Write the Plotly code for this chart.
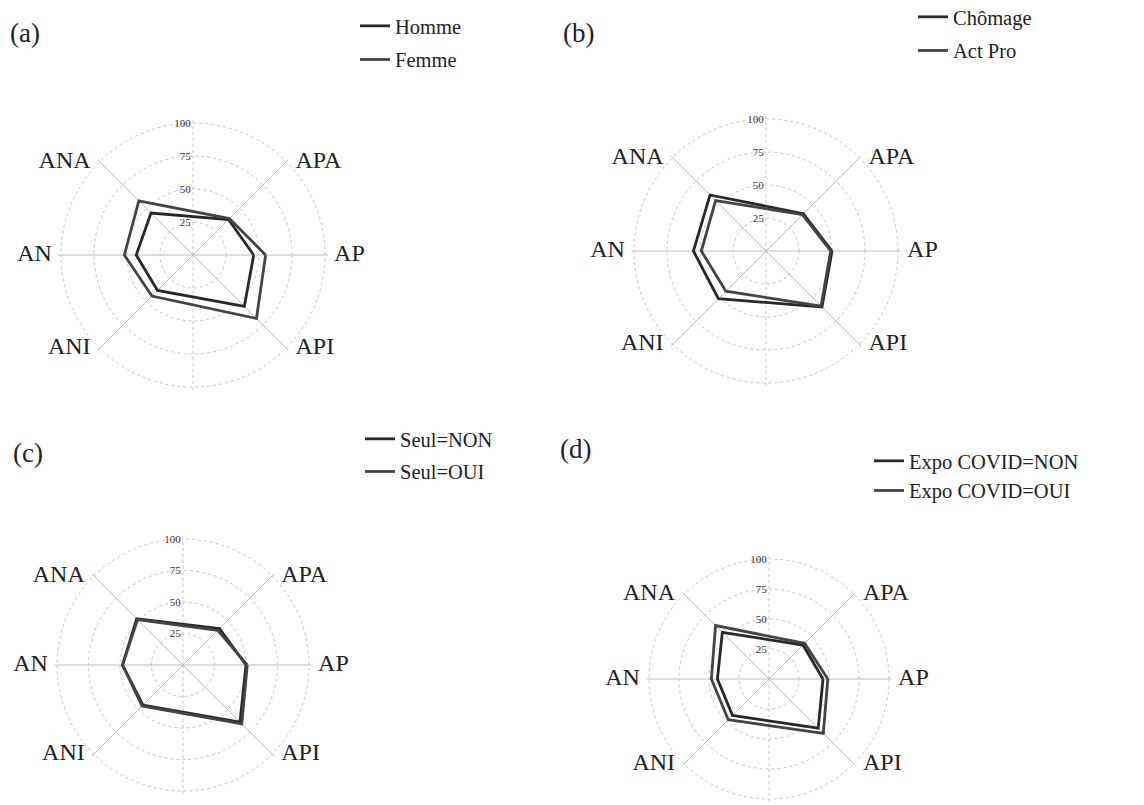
import plotly.graph_objects as go

# ---------------- data ----------------
CATEGORIES = ["AP", "APA", "ANA", "AN", "ANI", "API"]
# eight equal angular slots, two blank ones on the vertical
SLOTS = ["AP", "APA", " ", "ANA", "AN", "ANI", "  ", "API"]
BLANK_SLOTS = [" ", "  "]

HOMME = [46, 38, 45, 43, 38, 55]
FEMME = [55, 39, 58, 52, 44, 68]

CHOMAGE = [50, 40, 60, 55, 51, 60]
ACT_PRO = [49, 39, 54, 49, 43, 59]

SEUL_NON = [50, 41, 52, 48, 45, 64]
SEUL_OUI = [51, 39, 51, 48, 46, 66]

EXPO_NON = [45, 40, 55, 43, 43, 58]
EXPO_OUI = [49, 42, 63, 48, 48, 64]

RADIAL_TICKS = [25, 50, 75, 100]
RADIAL_TICKTEXT = ["25", "50", "75", "100"]
R_MAX = 102

PANELS = [
    dict(label="(a)", names=["Homme", "Femme"], values=[HOMME, FEMME]),
    dict(label="(b)", names=["Chômage", "Act Pro"], values=[CHOMAGE, ACT_PRO]),
    dict(label="(c)", names=["Seul=NON", "Seul=OUI"], values=[SEUL_NON, SEUL_OUI]),
    dict(label="(d)", names=["Expo COVID=NON", "Expo COVID=OUI"], values=[EXPO_NON, EXPO_OUI]),
]

# category label placement (left/right of the spoke end)
CAT_TEXTPOS = ["middle right", "middle right", "middle left",
               "middle left", "middle left", "middle right"]

# ---------------- layout geometry (page pixels) ----------------
W, H = 1144, 805
PAGE_OFFSET = 8  # default body margin of the html page
CENTERS = [(193, 255, 132), (766, 251, 132), (183, 665, 126), (769, 679, 120)]
LABEL_POS = [(25, 33), (578, 33), (28, 453), (575, 449)]
LEGEND_POS = [(355, 6), (913, -3), (360, 419), (869, 441)]
LEGEND_GAP = [4, 4, 3, 0]

FONT = "Liberation Serif"
LINE_COLORS = ["#282828", "#444444"]


def px_x(x):
    return (x - PAGE_OFFSET) / W


def px_y(y):
    return 1 - (y - PAGE_OFFSET) / H


def domain(cx, cy, R):
    R = R * R_MAX / 100
    return dict(x=[px_x(cx - R), px_x(cx + R)], y=[px_y(cy + R), px_y(cy - R)])


fig = go.Figure()
layout = dict(
    width=W, height=H, margin=dict(l=0, r=0, t=0, b=0, autoexpand=False),
    paper_bgcolor="white", plot_bgcolor="white",
    font=dict(family=FONT, color="#222222"),
    annotations=[],
)

for i, panel in enumerate(PANELS):
    base = "polar" if i == 0 else f"polar{2 * i + 1}"
    over = f"polar{2 * i + 2}"
    leg = "legend" if i == 0 else f"legend{i + 1}"
    cx, cy, R = CENTERS[i]
    dom = domain(cx, cy, R)

    # base polar: dotted circles, dotted vertical line, radial tick labels
    fig.add_trace(go.Scatterpolar(r=[], theta=[], subplot=base, showlegend=False,
                                  hoverinfo="skip", mode="lines"))
    layout[base] = dict(
        domain=dom, bgcolor="white",
        radialaxis=dict(range=[0, R_MAX], tickmode="array", tickvals=RADIAL_TICKS,
                        ticktext=RADIAL_TICKTEXT, showgrid=True, gridcolor="#c6c6c6",
                        griddash="dot", gridwidth=1, showline=False, ticks="",
                        angle=90, tickangle=90, side="counterclockwise",
                        tickfont=dict(family=FONT, size=11, color="#333333")),
        angularaxis=dict(type="category", categoryorder="array", categoryarray=SLOTS,
                         rotation=0, direction="counterclockwise",
                         tickmode="array", tickvals=BLANK_SLOTS,
                         showticklabels=False, showgrid=True, gridcolor="#c6c6c6",
                         griddash="dot", showline=False, ticks=""),
    )

    # overlay polar: solid spokes, category labels, data
    for k, (name, vals) in enumerate(zip(panel["names"], panel["values"])):
        fig.add_trace(go.Scatterpolar(
            r=vals + [vals[0]], theta=CATEGORIES + [CATEGORIES[0]],
            name=name, mode="lines", subplot=over, legend=leg, legendgroup=f"{i}-{k}",
            line=dict(color=LINE_COLORS[k], width=2.8)))
    # category names placed at the end of each spoke
    fig.add_trace(go.Scatterpolar(
        r=[RADIAL_TICKS[-1]] * len(CATEGORIES), theta=CATEGORIES, text=CATEGORIES,
        mode="markers+text", textposition=CAT_TEXTPOS, cliponaxis=False, subplot=over,
        marker=dict(size=13, color="rgba(0,0,0,0)"),
        showlegend=False, hoverinfo="skip",
        textfont=dict(family=FONT, size=24, color="#222222")))
    layout[over] = dict(
        domain=dom, bgcolor="rgba(0,0,0,0)",
        radialaxis=dict(range=[0, R_MAX], showgrid=False, showline=False,
                        showticklabels=False, ticks=""),
        angularaxis=dict(type="category", categoryorder="array", categoryarray=SLOTS,
                         rotation=0, direction="counterclockwise",
                         tickmode="array", tickvals=CATEGORIES, showticklabels=False,
                         showgrid=True, gridcolor="#bdbdbd", gridwidth=1.2,
                         showline=False, ticks=""),
    )

    lx, ly = LEGEND_POS[i]
    layout[leg] = dict(x=px_x(lx), y=px_y(ly), xanchor="left", yanchor="top",
                       bgcolor="rgba(0,0,0,0)", tracegroupgap=LEGEND_GAP[i],
                       font=dict(family=FONT, size=20.5, color="#222222"))

    lpx, lpy = LABEL_POS[i]
    layout["annotations"].append(dict(
        text=panel["label"], x=px_x(lpx), y=px_y(lpy), xref="paper", yref="paper",
        xanchor="center", yanchor="middle", showarrow=False,
        font=dict(family=FONT, size=27, color="#222222")))

fig.update_layout(**layout)
fig.write_html("out.html")
